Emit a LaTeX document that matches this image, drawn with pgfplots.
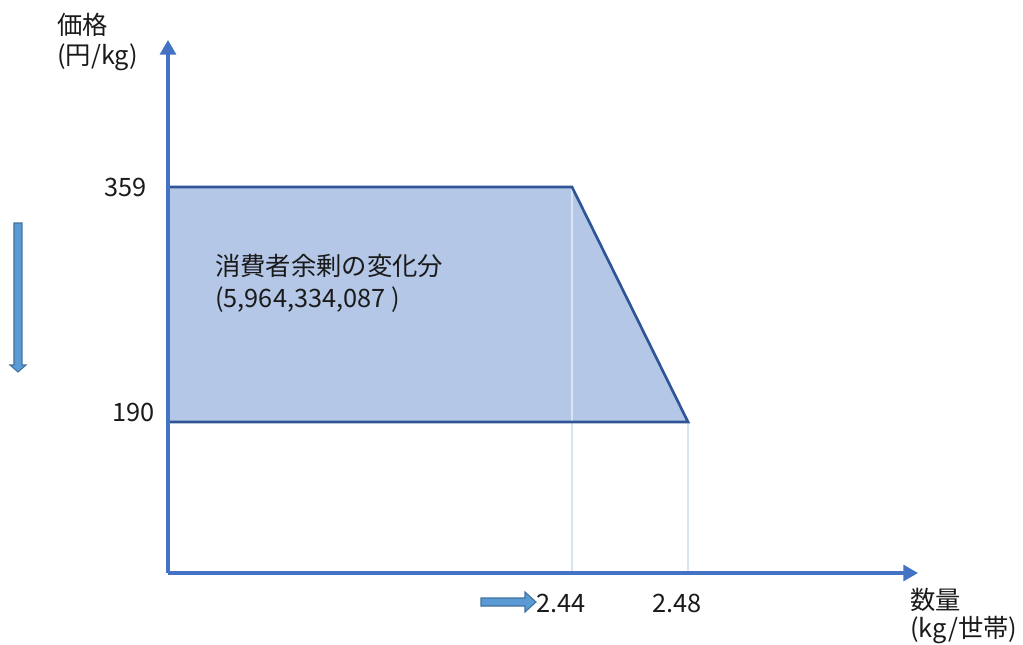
\documentclass[border=0pt]{standalone}
\usepackage{fontspec}
\setmainfont{Noto Sans CJK JP}
\usepackage{pgfplots}
\pgfplotsset{compat=1.18}
\usetikzlibrary{arrows.meta}

\definecolor{axisblue}{HTML}{4472C4}
\definecolor{areafill}{HTML}{B4C7E7}
\definecolor{edgeblue}{HTML}{2F5597}
\definecolor{guide}{HTML}{DAE3F3}
\definecolor{arrowfill}{HTML}{5B9BD5}
\definecolor{arrowedge}{HTML}{41719C}
\definecolor{txt}{HTML}{1A1A1A}

\newcommand{\lbl}{\fontsize{19}{23}\selectfont\color{txt}}

\begin{document}
\begin{tikzpicture}[x=0.75pt,y=0.75pt]
\begin{axis}[
  scale only axis,
  width=562.5pt, height=399.75pt,
  xmin=2.3007, xmax=2.5593,
  ymin=81.4, ymax=464.7,
  axis x line=bottom, axis y line=left,
  axis on top,
  x axis line style={axisblue, line width=2.4pt, -{Triangle[length=11pt,width=12pt]}},
  y axis line style={axisblue, line width=2.4pt, -{Triangle[length=11pt,width=12pt]}},
  major tick length=0pt,
  tick style={draw=none},
  xtick={2.44,2.48},
  xticklabels={2.44,2.48},
  ytick={190,359},
  yticklabels={{190},{\raisebox{-7.5pt}{359}\hspace*{6pt}}},
  tick label style={font=\lbl},
  xticklabel style={anchor=base, inner sep=0pt, yshift=-29.25pt, xshift=-8pt},
  yticklabel style={anchor=base east, inner sep=0pt, xshift=-10pt},
  /pgf/number format/assume math mode=true,
  clip=false,
]
  % consumer surplus change: trapezoid between the two prices
  \addplot[fill=areafill, draw=none]
    coordinates {(2.3007,359) (2.44,359) (2.48,190) (2.3007,190)} -- cycle;
  % guide lines down to the quantity axis
  \addplot[guide, line width=1.5pt] coordinates {(2.44,359) (2.44,81.4)};
  \addplot[guide, line width=1.5pt] coordinates {(2.48,190) (2.48,81.4)};
  % outline of the area
  \addplot[edgeblue, line width=2pt]
    coordinates {(2.3007,359) (2.44,359) (2.48,190) (2.3007,190)};
\end{axis}

% axis titles
\node[anchor=base west, inner sep=0pt, font=\lbl] at (-111,538) {価格};
\node[anchor=base west, inner sep=0pt, font=\lbl] at (-111,508) {(円/kg)};
\node[anchor=base west, inner sep=0pt, font=\lbl] at (742,-36) {数量};
\node[anchor=base west, inner sep=0pt, font=\lbl] at (742,-64) {(kg/世帯)};

% annotation inside the area
\node[anchor=base west, inner sep=0pt, font=\lbl] at (47,298) {消費者余剰の変化分};
\node[anchor=base west, inner sep=0pt, font=\lbl] at (47,266) {(5,964,334,087 )};

% direction arrows: price falls, quantity rises
\draw[fill=arrowfill, draw=arrowedge, line width=0.8pt, line join=miter]
  (-154,350) -- (-146,350) -- (-146,208) -- (-142,208) -- (-150,201)
  -- (-158,208) -- (-154,208) -- cycle;
\draw[fill=arrowfill, draw=arrowedge, line width=0.8pt, line join=miter]
  (313,-25) -- (357,-25) -- (357,-19) -- (368,-29) -- (357,-39)
  -- (357,-33) -- (313,-33) -- cycle;

\pgfresetboundingbox
\path (-168,-71) rectangle (855,573);
\end{tikzpicture}
\end{document}
